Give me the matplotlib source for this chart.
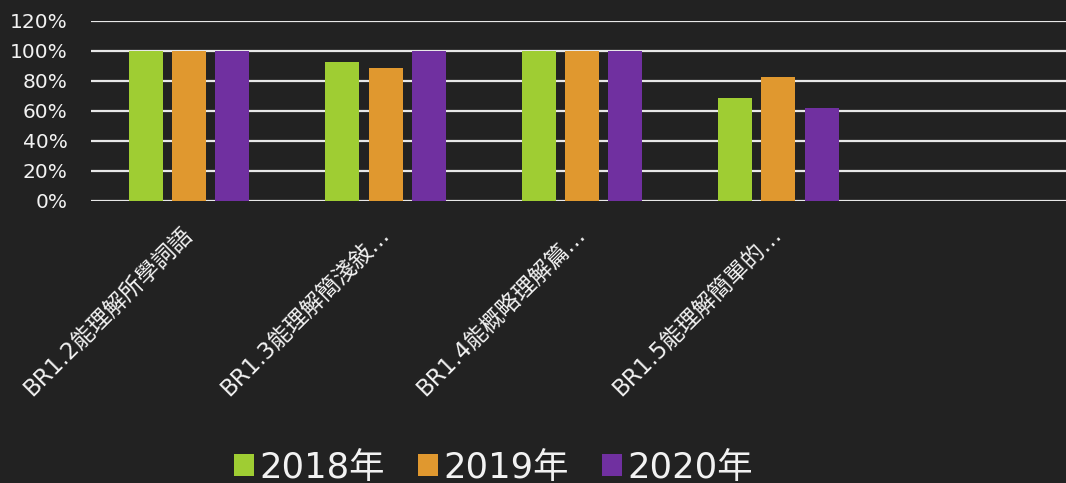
import matplotlib
matplotlib.use('Agg')
import matplotlib.pyplot as plt
from matplotlib.patches import Patch
import numpy as np

categories = ['BR1.2能理解所學詞語', 'BR1.3能理解簡淺敍…', 'BR1.4能概略理解篇…', 'BR1.5能理解簡單的…']
series_names = ['2018年', '2019年', '2020年']
v2018 = [1.00, 0.93, 1.00, 0.69]
v2019 = [1.00, 0.89, 1.00, 0.83]
v2020 = [1.00, 1.00, 1.00, 0.62]
yticks = [0, 0.2, 0.4, 0.6, 0.8, 1.0, 1.2]
ytick_labels = ['0%', '20%', '40%', '60%', '80%', '100%', '120%']

BG = '#222222'
TXT = '#f2f2f2'
colors = ['#9fcd33', '#e0982f', '#7030a0']

plt.rcParams['font.family'] = ['DejaVu Sans', 'Noto Sans CJK TC']

fig = plt.figure(figsize=(10.66, 4.83), dpi=100, facecolor=BG)
ax = fig.add_axes([91 / 1066, 282 / 483, 982 / 1066, 180 / 483])
ax.set_facecolor(BG)

x = np.arange(len(categories))
offs = [-0.22, 0.0, 0.22]
for vals, off, c in zip([v2018, v2019, v2020], offs, colors):
    ax.bar(x + off, vals, width=0.173, color=c, zorder=3)

# gridlines
for t in yticks:
    ax.axhline(t, color='#e8e8e8', lw=1.6, zorder=2)

ax.set_xlim(-0.5, len(categories) + 0.5)
ax.set_ylim(0, 1.2)
ax.set_yticks(yticks)
ax.set_yticklabels(ytick_labels, fontsize=14.5, color=TXT)
ax.tick_params(axis='y', length=0, pad=17)
ax.set_xticks(x)
ax.set_xticklabels(categories, fontsize=16.5, color=TXT, rotation=45,
                   ha='right', va='center', rotation_mode='anchor')
ax.tick_params(axis='x', length=0, pad=21)
for s in ax.spines.values():
    s.set_visible(False)

handles = [Patch(facecolor=c, label=n) for c, n in zip(colors, series_names)]
fig.legend(handles=handles, loc='center', bbox_to_anchor=(0.463, 0.032), ncol=3,
           frameon=False, fontsize=25.5, labelcolor=TXT, handlelength=0.55,
           handleheight=0.55, handletextpad=0.15, columnspacing=0.95)

fig.savefig('out.png', dpi=100, facecolor=BG)
